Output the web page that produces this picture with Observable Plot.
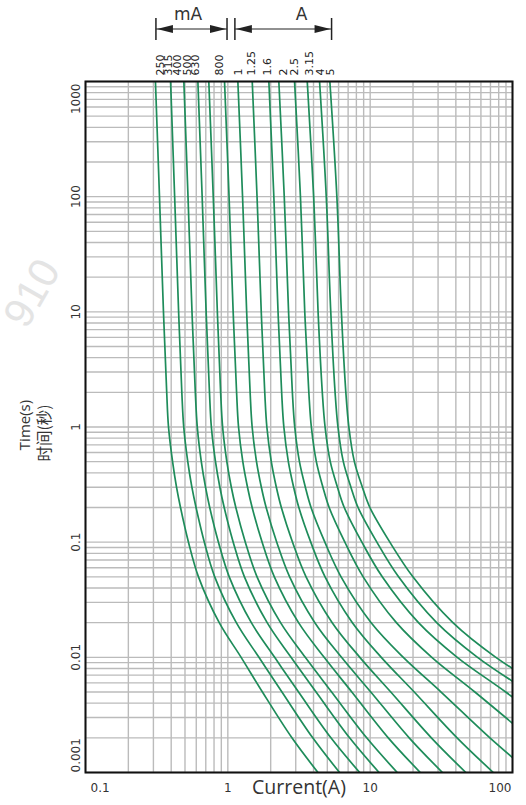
<!DOCTYPE html>
<html>
<head>
<meta charset="utf-8">
<script src="https://cdn.jsdelivr.net/npm/d3@7"></script>
<script src="https://cdn.jsdelivr.net/npm/@observablehq/plot@0.6"></script>
<style>
  html, body { margin: 0; padding: 0; background: #fff; }
  #chart svg { display: block; }
</style>
</head>
<body>
<div id="chart"></div>
<script>
// ---- data ----
const ratings = ["250", "315", "400", "500", "630", "800", "1", "1.25", "1.6", "2", "2.5", "3.15", "4", "5"];
// current (A) where each rating label sits above the frame
const ratingLabelAt = [0.335, 0.385, 0.443, 0.518, 0.596, 0.870, 1.189, 1.475, 1.901, 2.452, 2.928, 3.751, 4.481, 5.293];

// pre-arcing time levels (s) shared by all curves
const times = [1000, 100, 10, 2, 1, 0.5, 0.3, 0.2, 0.1, 0.05, 0.02, 0.01, 0.005, 0.002, 0.001];

// current (A) at each time level, one array per rating
const c250  = [0.310, 0.331, 0.353, 0.372, 0.383, 0.409, 0.436, 0.465, 0.529, 0.622, 0.870, 1.24, 1.75, 2.82, 4.30];
const c315  = [0.396, 0.423, 0.451, 0.475, 0.490, 0.523, 0.559, 0.598, 0.684, 0.809, 1.147, 1.654, 2.40, 3.95, 6.10];
const c400  = [0.491, 0.525, 0.560, 0.591, 0.610, 0.651, 0.697, 0.746, 0.859, 1.023, 1.463, 2.133, 3.14, 5.30, 8.44];
const c500  = [0.616, 0.660, 0.704, 0.743, 0.766, 0.819, 0.879, 0.943, 1.091, 1.308, 1.889, 2.78, 4.17, 7.17, 11.55];
const c630  = [0.735, 0.790, 0.844, 0.890, 0.919, 0.984, 1.058, 1.138, 1.327, 1.604, 2.346, 3.50, 5.36, 9.45, 15.5];
const c800  = [0.948, 1.020, 1.090, 1.152, 1.189, 1.274, 1.375, 1.482, 1.742, 2.122, 3.139, 4.75, 7.43, 13.4, 22.5];
const c1    = [1.176, 1.269, 1.356, 1.434, 1.482, 1.590, 1.720, 1.859, 2.206, 2.718, 4.087, 6.29, 10.1, 18.8, 32.2];
const c1_25 = [1.484, 1.604, 1.717, 1.817, 1.880, 2.020, 2.192, 2.377, 2.849, 3.544, 5.41, 8.46, 13.96, 26.9, 47.0];
const c1_6  = [1.942, 2.105, 2.253, 2.388, 2.475, 2.661, 2.900, 3.154, 3.825, 4.82, 7.50, 11.97, 20.4, 40.8, 73.3];
const c2    = [2.282, 2.491, 2.671, 2.840, 2.952, 3.185, 3.506, 3.843, 4.805, 6.245, 10.16, 17.1, 31.5, 69.4, 133];
const c2_5  = [2.943, 3.237, 3.471, 3.707, 3.862, 4.187, 4.656, 5.151, 6.640, 8.928, 15.28, 27.1, 54.4, 132.5];
const c3_15 = [3.614, 4.009, 4.305, 4.610, 4.821, 5.244, 5.891, 6.577, 8.743, 12.16, 21.85, 40.9, 89.6, 241];
const c4    = [4.411, 4.915, 5.286, 5.669, 5.939, 6.477, 7.324, 8.222, 11.15, 15.83, 29.33, 56.8, 131.3];
const c5    = [5.209, 5.835, 6.276, 6.748, 7.084, 7.745, 8.814, 9.952, 13.75, 19.96, 38.12, 76.4, 186];
const curves = [c250, c315, c400, c500, c630, c800, c1, c1_25, c1_6, c2, c2_5, c3_15, c4, c5];

// axis ticks
const xTicks = [0.1, 1, 10, 100];
const xTickLabels = ["0.1", "1", "10", "100"];
const yTicks = [0.001, 0.01, 0.1, 1, 10, 100, 1000];
const yTickLabels = ["0.001", "0.01", "0.1", "1", "10", "100", "1000"];

// group brackets above the chart
const groups = ["mA", "A"];
const groupFrom = [0.315, 1.13];
const groupTo = [0.995, 5.4];
const groupLabelAt = [0.530, 3.33];

// ---- build ----
const rows = curves.flatMap((cs, k) => cs.map((I, j) => ({rating: ratings[k], I, t: times[j]})));
const xDomain = [0.1, 100], yDomain = [0.001, 1000];
const xGrid = d3.scaleLog().domain(xDomain).ticks(40);
const yGrid = d3.scaleLog().domain(yDomain).ticks(80);

const tickFont = "'DejaVu Sans', sans-serif";
const titleFont = "'Open Sans', 'Noto Sans', sans-serif";
const textFill = "#333";
const gridColor = "#bbbbbb";
const curveColor = "#1e8c5a";

const xLab = xTicks.map((v, i) => ({v, s: xTickLabels[i]}));
const yLab = yTicks.map((v, i) => ({v, s: yTickLabels[i]}));
const rLab = ratings.map((s, i) => ({s, v: ratingLabelAt[i]}));

const plot = Plot.plot({
  width: 526,
  height: 805,
  marginLeft: 85,
  marginRight: 14,
  marginTop: 81,
  marginBottom: 33,
  x: {type: "log", domain: xDomain, axis: null},
  y: {type: "log", domain: yDomain, axis: null},
  style: {background: "#fff", fontFamily: tickFont},
  marks: [
    Plot.ruleX(xGrid, {stroke: gridColor, strokeWidth: 1.4}),
    Plot.ruleY(yGrid, {stroke: gridColor, strokeWidth: 1.4}),
    Plot.line(rows, {x: "I", y: "t", z: "rating", stroke: curveColor, strokeWidth: 1.7, curve: "catmull-rom", clip: true}),
    Plot.frame({stroke: "#111", strokeWidth: 2}),
    // x tick labels
    Plot.text(xLab.filter(d => d.v > xDomain[0] && d.v < xDomain[1]), {x: "v", text: "s", frameAnchor: "bottom", lineAnchor: "top", textAnchor: "middle", dy: 11, fontSize: 12, fill: textFill, fontFamily: tickFont}),
    Plot.text(xLab.filter(d => d.v === xDomain[0]), {x: "v", text: "s", frameAnchor: "bottom", lineAnchor: "top", textAnchor: "start", dx: 5, dy: 11, fontSize: 12, fill: textFill, fontFamily: tickFont}),
    Plot.text(xLab.filter(d => d.v === xDomain[1]), {x: "v", text: "s", frameAnchor: "bottom", lineAnchor: "top", textAnchor: "end", dx: -1, dy: 11, fontSize: 12, fill: textFill, fontFamily: tickFont}),
    // y tick labels (rotated)
    Plot.text(yLab.filter(d => d.v > yDomain[0] && d.v < yDomain[1]), {y: "v", text: "s", frameAnchor: "left", dx: -6, rotate: -90, lineAnchor: "bottom", textAnchor: "middle", fontSize: 12, fill: textFill, fontFamily: tickFont}),
    Plot.text(yLab.filter(d => d.v === yDomain[0]), {y: "v", text: "s", frameAnchor: "left", dx: -6, rotate: -90, lineAnchor: "bottom", textAnchor: "start", fontSize: 12, fill: textFill, fontFamily: tickFont}),
    Plot.text(yLab.filter(d => d.v === yDomain[1]), {y: "v", text: "s", frameAnchor: "left", dx: -6, dy: 2, rotate: -90, lineAnchor: "bottom", textAnchor: "end", fontSize: 12, fill: textFill, fontFamily: tickFont}),
    // rating labels above the frame
    Plot.text(rLab, {x: "v", text: "s", frameAnchor: "top", dy: -6, rotate: -90, textAnchor: "start", lineAnchor: "middle", fontSize: 11, fill: "#222", fontFamily: tickFont}),
    // axis titles
    Plot.text(["Current(A)"], {frameAnchor: "bottom", lineAnchor: "middle", textAnchor: "middle", dy: 15, fontSize: 19.5, fill: textFill, fontFamily: titleFont}),
    Plot.text(["Time(s)"], {frameAnchor: "left", dx: -60, dy: -2, rotate: -90, lineAnchor: "middle", textAnchor: "middle", fontSize: 15, fill: textFill, fontFamily: titleFont}),
    Plot.text(["时间(秒)"], {frameAnchor: "left", dx: -40, dy: 6, rotate: -90, lineAnchor: "middle", textAnchor: "middle", fontSize: 15.5, fill: textFill, fontFamily: "'Noto Sans CJK SC', sans-serif"})
  ]
});

// brackets "mA" / "A" positioned with the plot's own x scale
const sx = plot.scale("x");
const xs = d3.scaleLog(sx.domain, sx.range);
const svg = d3.select(plot);

// faint watermark in the left margin
svg.insert("text", ":first-child")
  .attr("transform", "translate(44,300) rotate(-60)")
  .attr("text-anchor", "middle")
  .attr("font-family", "'Liberation Sans', Arial, sans-serif")
  .attr("font-size", 42)
  .attr("fill", "#e4e4e4")
  .text("910");

const g = svg.append("g").attr("stroke", "#222").attr("fill", "#222");
const yb = 29, hl = 16, hw = 4;
groups.forEach((name, i) => {
  const x1 = xs(groupFrom[i]), x2 = xs(groupTo[i]);
  g.append("line").attr("x1", x1).attr("x2", x1).attr("y1", 18).attr("y2", 40).attr("stroke-width", 1.5);
  g.append("line").attr("x1", x2).attr("x2", x2).attr("y1", 18).attr("y2", 40).attr("stroke-width", 1.5);
  g.append("line").attr("x1", x1).attr("x2", x2).attr("y1", yb).attr("y2", yb).attr("stroke-width", 1.2);
  g.append("path").attr("stroke", "none")
    .attr("d", `M${x1 + 1},${yb}L${x1 + 1 + hl},${yb - hw}L${x1 + 1 + hl},${yb + hw}Z`);
  g.append("path").attr("stroke", "none")
    .attr("d", `M${x2 - 1},${yb}L${x2 - 1 - hl},${yb - hw}L${x2 - 1 - hl},${yb + hw}Z`);
  svg.append("text")
    .attr("x", xs(groupLabelAt[i]))
    .attr("y", 20)
    .attr("text-anchor", "middle")
    .attr("font-family", "'DejaVu Sans', sans-serif")
    .attr("font-size", 17)
    .attr("fill", textFill)
    .text(name);
});

document.getElementById("chart").appendChild(plot);
</script>
</body>
</html>
